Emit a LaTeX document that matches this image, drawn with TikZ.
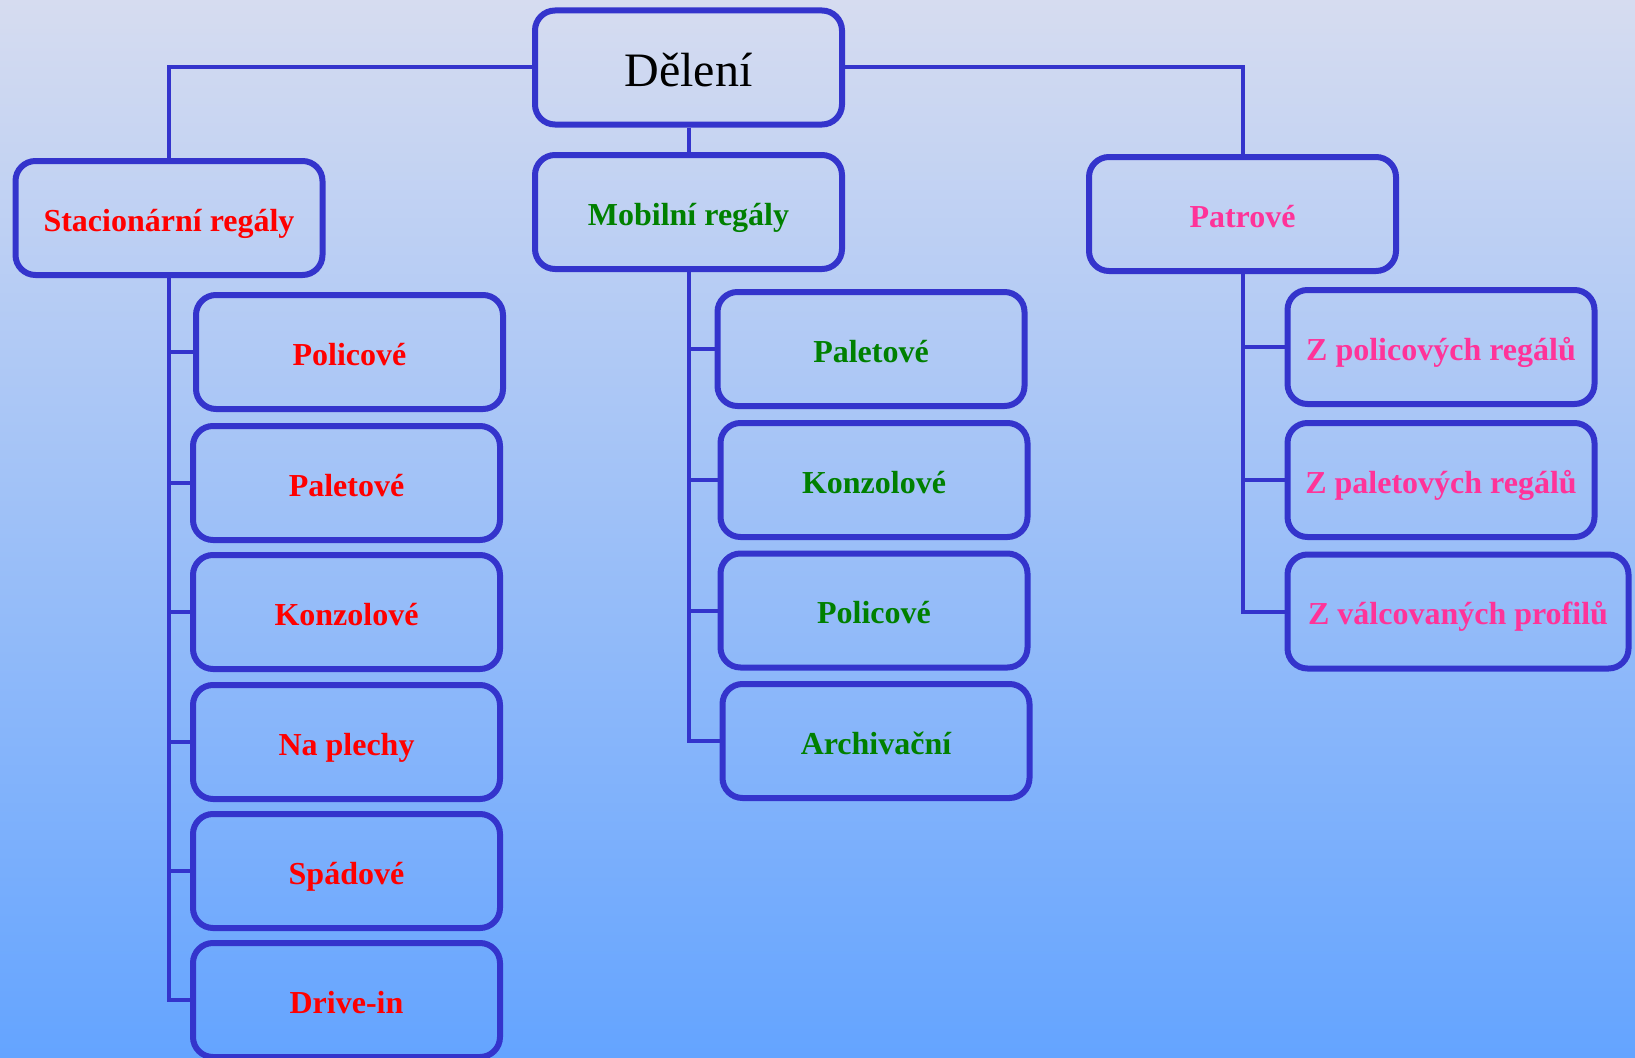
\documentclass[tikz,border=0pt]{standalone}
\usepackage{fontspec}
\setmainfont{Liberation Serif}
\definecolor{edgeblue}{HTML}{3434CC}
\definecolor{bgtop}{HTML}{D6DCF0}
\definecolor{bgmid}{HTML}{8EC1F8}
\definecolor{bgbot}{HTML}{64A4FF}
\definecolor{lblred}{HTML}{FF0000}
\definecolor{lblgreen}{HTML}{008000}
\definecolor{lblpink}{HTML}{FF3399}
\tikzset{
  box/.style={draw=edgeblue, line width=6pt, rounded corners=20pt,
    minimum width=307pt, minimum height=114pt, inner sep=0pt,
    text height=30pt, text depth=4pt,
    font=\fontsize{32pt}{38pt}\selectfont\bfseries},
  redbox/.style={box, text=lblred},
  greenbox/.style={box, text=lblgreen},
  pinkbox/.style={box, text=lblpink},
  link/.style={draw=edgeblue, line width=4pt},
}
\begin{document}
\begin{tikzpicture}[x=1pt,y=-1pt]
\useasboundingbox (0,0) rectangle (1635,1057);
\shade[top color=bgtop, middle color=bgmid, bottom color=bgbot] (0,0) rectangle (1635,1057);
\begin{scope}
\clip (0,0) rectangle (1635,1057);
% top level
\node[box, font=\fontsize{48pt}{56pt}\selectfont, text height=44pt, text depth=6pt, text=black] (del) at (688.5,67.5) {Dělení};
\node[redbox] (stac) at (169,218) {Stacionární regály};
\node[greenbox] (mob) at (688.5,212) {Mobilní regály};
\node[pinkbox] (patr) at (1242.5,214) {Patrové};
% stationary children
\node[redbox] (s1) at (349.5,352) {Policové};
\node[redbox] (s2) at (346.5,483) {Paletové};
\node[redbox] (s3) at (346.5,612) {Konzolové};
\node[redbox] (s4) at (346.5,742) {Na plechy};
\node[redbox] (s5) at (346.5,871) {Spádové};
\node[redbox] (s6) at (346.5,1000) {Drive-in};
% mobile children
\node[greenbox] (m1) at (871,349) {Paletové};
\node[greenbox] (m2) at (874,480) {Konzolové};
\node[greenbox] (m3) at (874,610.5) {Policové};
\node[greenbox] (m4) at (876,741) {Archivační};
% patrove children
\node[pinkbox] (p1) at (1441,347) {Z policových regálů};
\node[pinkbox] (p2) at (1441,480) {Z paletových regálů};
\node[pinkbox, minimum width=341pt] (p3) at (1458,611.5) {Z válcovaných profilů};
% connectors
\draw[link] (del.west) -| (stac.north);
\draw[link] (del.east) -| (patr.north);
\draw[link] (del.south) -- (mob.north);
\draw[link] (stac.south) -- (stac.south |- s6.west) -- (s6.west);
\foreach \c in {s1,s2,s3,s4,s5} \draw[link] (stac.south |- \c.west) -- (\c.west);
\draw[link] (mob.south) -- (mob.south |- m4.west) -- (m4.west);
\foreach \c in {m1,m2,m3} \draw[link] (mob.south |- \c.west) -- (\c.west);
\draw[link] (patr.south) -- (patr.south |- p3.west) -- (p3.west);
\foreach \c in {p1,p2} \draw[link] (patr.south |- \c.west) -- (\c.west);
\end{scope}
\end{tikzpicture}
\end{document}
